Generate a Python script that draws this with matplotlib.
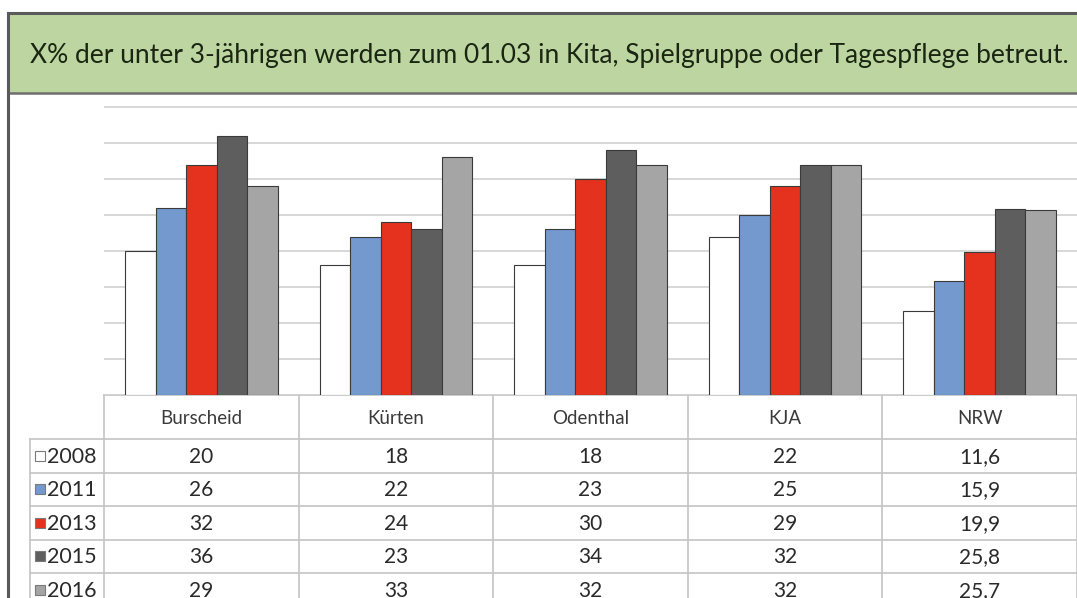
import matplotlib
matplotlib.use("Agg")
import matplotlib.pyplot as plt
from matplotlib.patches import Rectangle
import numpy as np

plt.rcParams['font.family'] = ['Lato', 'DejaVu Sans']

title = "X% der unter 3-jährigen werden zum 01.03 in Kita, Spielgruppe oder Tagespflege betreut."
categories = ["Burscheid", "Kürten", "Odenthal", "KJA", "NRW"]
years = ["2008", "2011", "2013", "2015", "2016"]
v2008 = [20, 18, 18, 22, 11.6]
v2011 = [26, 22, 23, 25, 15.9]
v2013 = [32, 24, 30, 29, 19.9]
v2015 = [36, 23, 34, 32, 25.8]
v2016 = [29, 33, 32, 32, 25.7]
labels2008 = ["20", "18", "18", "22", "11,6"]
labels2011 = ["26", "22", "23", "25", "15,9"]
labels2013 = ["32", "24", "30", "29", "19,9"]
labels2015 = ["36", "23", "34", "32", "25,8"]
labels2016 = ["29", "33", "32", "32", "25,7"]

series = [v2008, v2011, v2013, v2015, v2016]
series_labels = [labels2008, labels2011, labels2013, labels2015, labels2016]
colors = ["#ffffff", "#7399cf", "#e5321f", "#5e5e5e", "#a5a5a5"]

W, H = 1077, 598
fig = plt.figure(figsize=(W / 100, H / 100), dpi=100)
fig.patch.set_facecolor("white")

# overlay axis in pixel coordinates
ov = fig.add_axes([0, 0, 1, 1])
ov.set_xlim(0, W)
ov.set_ylim(H, 0)
ov.axis("off")

# layout
col_left = 104.0
col_w = (W - col_left) / len(categories)
base_y = 395.0
px_per_unit = 7.2
ytop = 40.3
header_bottom = 439.0
row_h = 33.5
label_left = 30.0

# frame and title box
ov.add_patch(Rectangle((8, 13), W, 80, facecolor="#bdd6a1", edgecolor="none", zorder=1))
ov.plot([8, W], [93, 93], color="#6e6e6e", lw=1.8, zorder=2)
ov.plot([8, 8], [13, H], color="#5a5a5a", lw=2.2, zorder=3)
ov.plot([8, W], [13, 13], color="#5a5a5a", lw=2.2, zorder=3)
ov.text(549, 55, title, ha="center", va="center", fontsize=19,
        color="#1a2612", zorder=4)

# bar axes
ax = fig.add_axes([col_left / W, (H - base_y) / H, (W - col_left) / W,
                   ytop * px_per_unit / H])
ax.set_facecolor("none")
ax.set_xlim(-0.5, len(categories) - 0.5)
ax.set_ylim(0, ytop)
ax.set_yticks(np.arange(0, 41, 5))
ax.yaxis.grid(True, color="#d4d4d4", lw=1.3)
ax.set_axisbelow(True)
ax.tick_params(left=False, bottom=False, labelleft=False, labelbottom=False)
for s in ax.spines.values():
    s.set_visible(False)

x = np.arange(len(categories))
bw = 30.5 / col_w
for i, (vals, c) in enumerate(zip(series, colors)):
    ax.bar(x + (i - 2) * bw, vals, width=bw, color=c, edgecolor="#3a3a3a",
           linewidth=0.8, zorder=3)

# table
lc = "#c4c4c4"
ov.plot([col_left, W], [base_y, base_y], color=lc, lw=1.2, zorder=5)
for k in range(len(categories) + 1):
    xx = col_left + k * col_w
    ov.plot([xx, xx], [base_y, H], color=lc, lw=1.2, zorder=5)
ov.plot([label_left, label_left], [header_bottom, H], color=lc, lw=1.2, zorder=5)
for r in range(len(years)):
    yy = header_bottom + r * row_h
    ov.plot([label_left, W], [yy, yy], color=lc, lw=1.2, zorder=5)

for j, cat in enumerate(categories):
    ov.text(col_left + (j + 0.5) * col_w, (base_y + header_bottom) / 2 + 2, cat,
            ha="center", va="center", fontsize=13.5, color="#3a3a3a", zorder=6)

for r, (yr, labs, c) in enumerate(zip(years, series_labels, colors)):
    yc = header_bottom + (r + 0.5) * row_h + 1
    ov.add_patch(Rectangle((35, yc - 6), 10, 10, facecolor=c, edgecolor="#7a7a7a",
                           lw=0.8, zorder=6))
    ov.text(47, yc, yr, ha="left", va="center", fontsize=15.5, color="#2a2a2a", zorder=6)
    for j, lab in enumerate(labs):
        ov.text(col_left + (j + 0.5) * col_w, yc, lab, ha="center", va="center",
                fontsize=15, color="#2a2a2a", zorder=6)

fig.savefig("out.png", dpi=100, facecolor="white")
